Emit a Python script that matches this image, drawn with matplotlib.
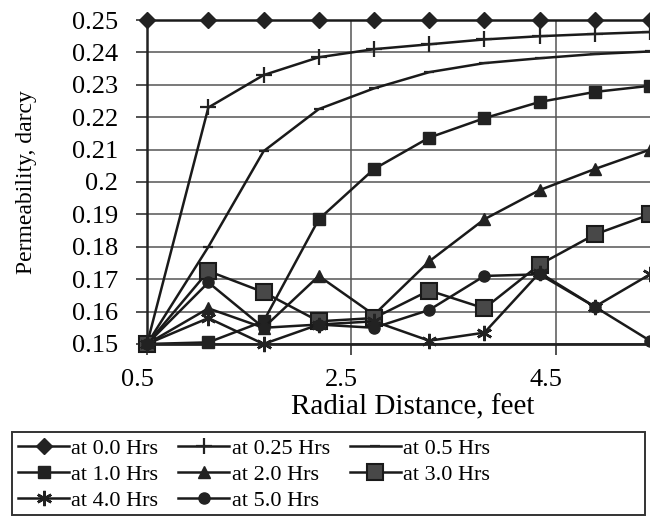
import matplotlib
matplotlib.use('Agg')
import matplotlib.pyplot as plt
import matplotlib.transforms as mtransforms
from matplotlib.patches import Rectangle

plt.rcParams['font.family'] = ['Liberation Serif', 'DejaVu Serif']

# radial distance from the well, feet
radius = [0.5, 1.1, 1.64, 2.18, 2.72, 3.26, 3.8, 4.34, 4.88, 5.42]

# permeability (darcy) at each time
k_00 = [0.25, 0.25, 0.25, 0.25, 0.25, 0.25, 0.25, 0.25, 0.25, 0.25]
k_025 = [0.15, 0.223, 0.233, 0.2385, 0.241, 0.2425, 0.244, 0.245, 0.2457, 0.2463]
k_05 = [0.15, 0.18, 0.2095, 0.2225, 0.2289, 0.2339, 0.2367, 0.2382, 0.2395, 0.2403]
k_10 = [0.15, 0.1505, 0.157, 0.1885, 0.204, 0.2137, 0.2197, 0.2247, 0.2278, 0.2297]
k_20 = [0.15, 0.161, 0.155, 0.171, 0.159, 0.1755, 0.1885, 0.1975, 0.204, 0.21]
k_30 = [0.15, 0.1725, 0.166, 0.157, 0.158, 0.1665, 0.161, 0.1745, 0.1838, 0.19]
k_40 = [0.15, 0.158, 0.15, 0.156, 0.157, 0.151, 0.1535, 0.172, 0.1615, 0.1715]
k_50 = [0.15, 0.169, 0.155, 0.156, 0.155, 0.1605, 0.171, 0.1715, 0.1615, 0.151]

series_labels = ['at 0.0 Hrs', 'at 0.25 Hrs', 'at 0.5 Hrs', 'at 1.0 Hrs',
                 'at 2.0 Hrs', 'at 3.0 Hrs', 'at 4.0 Hrs', 'at 5.0 Hrs']

y_ticks = [0.15, 0.16, 0.17, 0.18, 0.19, 0.2, 0.21, 0.22, 0.23, 0.24, 0.25]
y_tick_labels = ['0.15', '0.16', '0.17', '0.18', '0.19', '0.2',
                 '0.21', '0.22', '0.23', '0.24', '0.25']
x_ticks = [0.5, 2.5, 4.5]
x_tick_labels = ['0.5', '2.5', '4.5']

# marker style for each curve (same order as the labels)
styles = [
    dict(marker='D', ms=8, mfc='#222222', mec='#222222'),
    dict(marker='+', ms=12, mew=1.6, mec='#222222'),
    dict(marker='_', ms=7, mew=1.6, mec='#222222'),
    dict(marker='s', ms=8, mfc='#222222', mec='#222222'),
    dict(marker='^', ms=9, mfc='#222222', mec='#222222'),
    dict(marker='s', ms=12, mfc='#484848', mec='#1a1a1a', mew=1.5),
    dict(marker=(6, 2, 0), ms=11, mew=1.8, mec='#222222'),
    dict(marker='o', ms=8, mfc='#222222', mec='#222222'),
]

all_k = [k_00, k_025, k_05, k_10, k_20, k_30, k_40, k_50]

fig = plt.figure(figsize=(6.5, 5.2), dpi=100)
ax = fig.add_axes([0.2262, 0.3385, 0.7738, 0.623])

handles = []
for k, lab, st in zip(all_k, series_labels, styles):
    h, = ax.plot(radius, k, color='#1a1a1a', lw=1.8, label=lab, clip_on=False, **st)
    handles.append(h)

ax.set_xlim(0.5, 5.42)
ax.set_ylim(0.15, 0.25)

ax.set_yticks(y_ticks)
ax.set_yticklabels(y_tick_labels, fontsize=19)
ax.set_xticks(x_ticks)
ax.set_xticklabels(x_tick_labels, fontsize=19)
ax.tick_params(axis='both', direction='out', length=8, width=1.2, color='#333333')
ax.tick_params(axis='y', pad=13)
ax.tick_params(axis='x', pad=10)

# tick labels sit a bit left of their gridlines in the scan
shift = mtransforms.ScaledTranslation(-10 / 100, 0, fig.dpi_scale_trans)
for t in ax.get_xticklabels():
    t.set_transform(t.get_transform() + shift)

ax.grid(True, color='#555555', lw=1.1)
ax.set_axisbelow(True)

for s in ['top', 'right']:
    ax.spines[s].set_visible(False)
ax.spines['left'].set_linewidth(1.8)
ax.spines['left'].set_color('#222222')
ax.spines['bottom'].set_linewidth(2)
ax.spines['bottom'].set_color('#222222')

ax.set_xlabel('Radial Distance, feet', fontsize=21, va='center')
ax.xaxis.set_label_coords(0.529, -0.195)
ax.set_ylabel('Permeability, darcy', fontsize=17)
ax.yaxis.set_label_coords(-0.218, 0.5)

# legend: row-wise order as in the original (matplotlib fills by column)
order = [0, 3, 6, 1, 4, 7, 2, 5]
leg = fig.legend([handles[i] for i in order], [series_labels[i] for i in order],
                 loc='upper left', bbox_to_anchor=(18 / 650, 1 - 438 / 520),
                 ncol=3, fontsize=16, frameon=False, handlelength=2.3,
                 handletextpad=0.1, labelspacing=0.26, borderaxespad=0,
                 borderpad=0, columnspacing=0.9)

fig.patches.append(Rectangle((12 / 650, 5 / 520), 633 / 650, 83 / 520,
                             transform=fig.transFigure, fill=False,
                             edgecolor='#333333', lw=1.4))

fig.savefig('out.png', dpi=100)
